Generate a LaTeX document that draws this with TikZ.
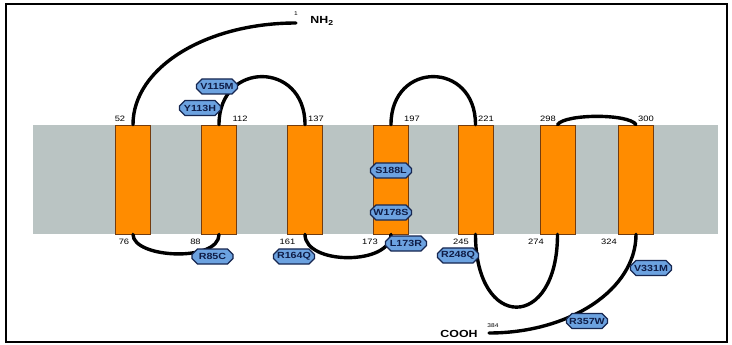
\documentclass[tikz,border=0pt]{standalone}
\usepackage{fontspec}
\setmainfont{Liberation Sans}
\newfontfamily\wide[FakeStretch=1.2]{Liberation Sans}
\usetikzlibrary{shapes.misc}

\definecolor{membrane}{RGB}{186,196,195}
\definecolor{helix}{RGB}{255,140,0}
\definecolor{helixedge}{RGB}{115,60,15}
\definecolor{mutfill}{RGB}{108,162,224}
\definecolor{mutedge}{RGB}{22,38,80}
\definecolor{muttext}{RGB}{15,28,70}

\begin{document}
\begin{tikzpicture}[x=1pt,y=-1pt,
  tm/.style={draw=helixedge, line width=0.8pt, fill=helix,
    minimum width=35pt, minimum height=109pt, inner sep=0pt},
  chain/.style={line width=3.4pt, line cap=round},
  mut/.style={chamfered rectangle, chamfered rectangle xsep=2pt,
    draw=mutedge, line width=1.2pt, fill=mutfill, text=muttext,
    minimum width=41pt, minimum height=15pt, inner sep=0pt,
    font=\wide\bfseries\fontsize{8.9}{9}\selectfont},
  num/.style={inner sep=0pt, font=\wide\fontsize{7.8}{8}\selectfont},
  term/.style={inner sep=0pt, font=\wide\bfseries\fontsize{10.3}{11}\selectfont},
  tiny/.style={inner sep=0pt, font=\wide\fontsize{5.5}{6}\selectfont}]

\useasboundingbox (0,0) rectangle (732,345);
\fill[white] (0,0) rectangle (732,345);

% lipid bilayer
\fill[membrane] (33,125) rectangle (718,234);

% transmembrane helices
\node[tm] (h1) at (133,179.5) {};
\node[tm] (h2) at (219,179.5) {};
\node[tm] (h3) at (305,179.5) {};
\node[tm] (h4) at (391,179.5) {};
\node[tm] (h5) at (475.5,179.5) {};
\node[tm] (h6) at (557.5,179.5) {};
\node[tm] (h7) at (636,179.5) {};

% chain ends
\coordinate (nend) at (296,23);
\coordinate (cend) at (489,333);

% connecting loops
\draw[chain] (h1.north) .. controls +(0,-57) and +(-90,0) .. (nend);
\draw[chain] (h1.south) .. controls +(0,24) and +(0,28) .. (h2.south);
\draw[chain] (h2.north) .. controls +(0,-64) and +(0,-64) .. (h3.north);
\draw[chain] (h3.south) .. controls +(0,31) and +(0,31) .. (h4.south);
\draw[chain] (h4.north) .. controls +(0,-64) and +(0,-64) .. (h5.north);
\draw[chain] (h5.south) .. controls +(0,97) and +(0,97) .. (h6.south);
\draw[chain] (h6.north) .. controls +(8,-11) and +(-7,-11) .. (h7.north);
\draw[chain] (h7.south) .. controls +(0,55) and +(81,0) .. (cend);

% residue numbers
\node[num] (n52)  at (120,119) {52};
\node[num] (n112) at (240,119) {112};
\node[num] (n137) at (316,119) {137};
\node[num] (n197) at (412,119) {197};
\node[num] (n221) at (486,119) {221};
\node[num] (n298) at (548,119) {298};
\node[num] (n300) at (646,119) {300};
\node[num] (n76)  at (124,242) {76};
\node[num] (n88)  at (195.5,242) {88};
\node[num] (n161) at (287.5,242) {161};
\node[num] (n173) at (370,242) {173};
\node[num] (n245) at (461,242) {245};
\node[num] (n274) at (536,242) {274};
\node[num] (n324) at (609,242) {324};
\node[tiny] (n1)   at (296,14) {1};
\node[tiny] (n384) at (493,326) {384};

% termini
\node[term] (nh2)  at (322,21) {NH\textsubscript{2}};
\node[term] (cooh) at (459,334) {COOH};

% mutations
\node[mut] (m115) at (217,86.5) {V115M};
\node[mut] (m113) at (200,108) {Y113H};
\node[mut] (m85)  at (212.5,256.5) {R85C};
\node[mut] (m164) at (294,256.5) {R164Q};
\node[mut] (m188) at (391,170.5) {S188L};
\node[mut] (m178) at (391,212.5) {W178S};
\node[mut] (m173) at (406,243.5) {L173R};
\node[mut] (m248) at (458,255.5) {R248Q};
\node[mut] (m331) at (651,268) {V331M};
\node[mut] (m357) at (587,321) {R357W};

% frame
\draw[line width=2pt] (6,4.5) rectangle (727,342);
\end{tikzpicture}
\end{document}
